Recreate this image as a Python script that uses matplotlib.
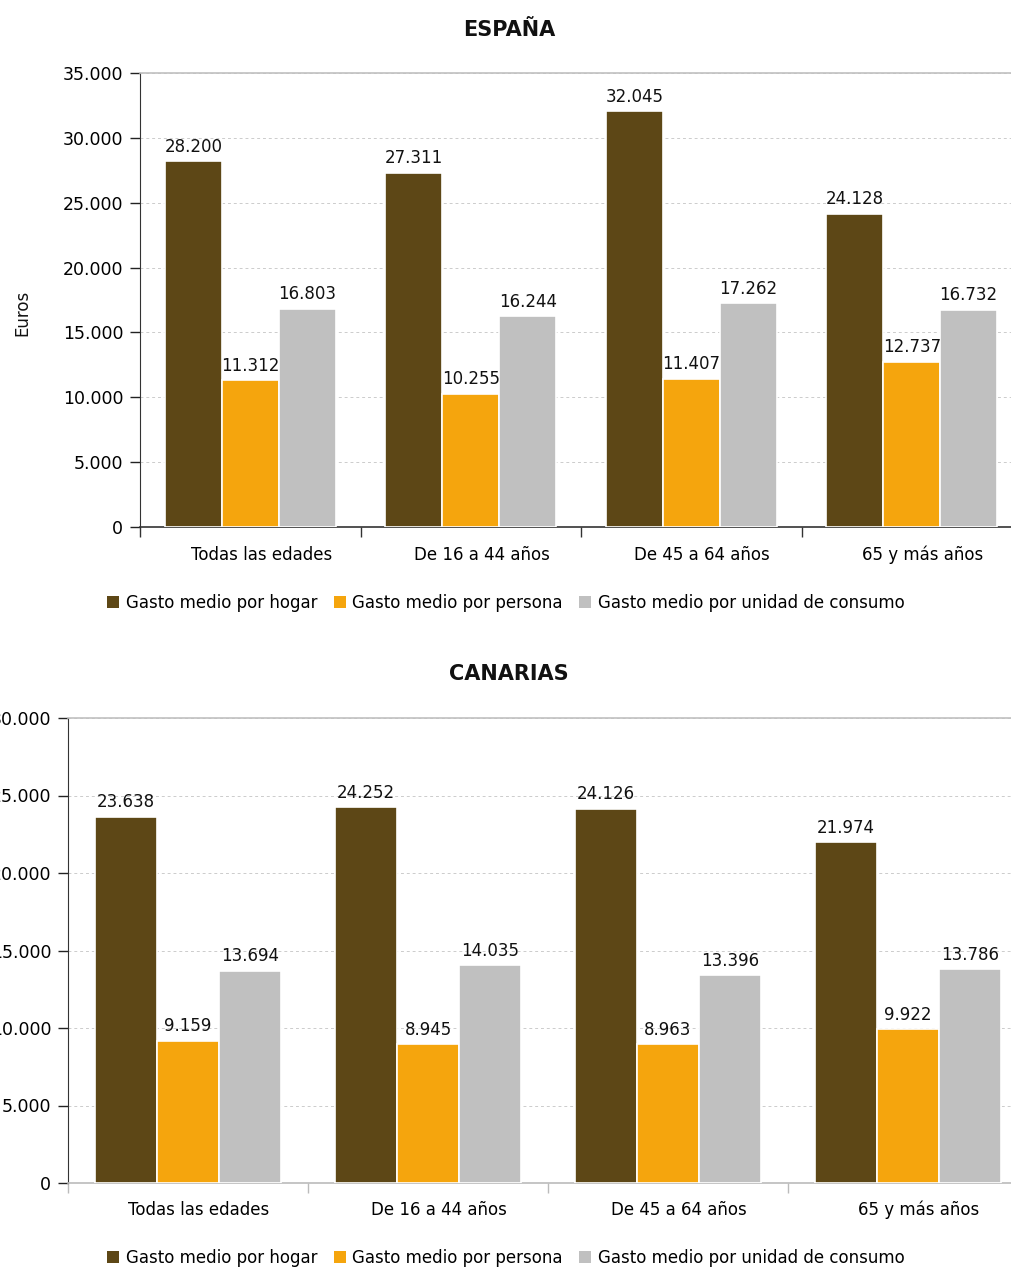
import matplotlib
matplotlib.use("Agg")
import matplotlib.pyplot as plt
import matplotlib.transforms as mtransforms
from matplotlib.patches import Patch
from matplotlib.ticker import FuncFormatter, MultipleLocator

categorias = ["Todas las edades", "De 16 a 44 años", "De 45 a 64 años", "65 y más años"]
series = ["Gasto medio por hogar", "Gasto medio por persona", "Gasto medio por unidad de consumo"]
colores = ["#5D4716", "#F5A50D", "#C0C0C0"]

espana_hogar = [28200, 27311, 32045, 24128]
espana_persona = [11312, 10255, 11407, 12737]
espana_unidad = [16803, 16244, 17262, 16732]

canarias_hogar = [23638, 24252, 24126, 21974]
canarias_persona = [9159, 8945, 8963, 9922]
canarias_unidad = [13694, 14035, 13396, 13786]

W, H = 1011, 1268
DPI = 100


def miles(v, pos=None):
    return f"{int(round(v)):,}".replace(",", ".")


def dibujar(ax, valores, ymax, xaxis_color, pad_lab):
    ancho = 0.258
    x = list(range(len(categorias)))
    for k, (vals, col) in enumerate(zip(valores, colores)):
        pos = [i + (k - 1) * ancho for i in x]
        bars = ax.bar(pos, vals, width=ancho, color=col, edgecolor="white",
                      linewidth=1.2, zorder=3)
        for b, v in zip(bars, vals):
            ax.annotate(miles(v), (b.get_x() + b.get_width() / 2, v),
                        xytext=(0, 4), textcoords="offset points",
                        ha="center", va="bottom", fontsize=12, color="#111111",
                        zorder=4)
    ax.set_xlim(-0.5, 3.5)
    ax.set_ylim(0, ymax)
    ax.yaxis.set_major_locator(MultipleLocator(5000))
    ax.yaxis.set_major_formatter(FuncFormatter(miles))
    ax.grid(axis="y", color="#cccccc", linestyle=(0, (3, 3)), linewidth=0.7, zorder=0)
    ax.set_axisbelow(True)

    ax.set_xticks(x)
    ax.set_xticklabels(categorias, fontsize=12)
    ax.set_xticks([-0.5, 0.5, 1.5, 2.5, 3.5], minor=True)
    ax.tick_params(axis="x", which="major", length=0, pad=pad_lab)
    ax.tick_params(axis="x", which="minor", length=7, color=xaxis_color, width=1)
    desplaza = mtransforms.ScaledTranslation(11 / DPI, 0, ax.figure.dpi_scale_trans)
    for lab in ax.get_xticklabels():
        lab.set_verticalalignment("baseline")
        lab.set_transform(lab.get_transform() + desplaza)
    ax.tick_params(axis="y", length=7, width=1, color="#222222", pad=5, labelsize=12.5)

    ax.spines["right"].set_visible(False)
    ax.spines["top"].set_color("#c0c0c0")
    ax.spines["top"].set_linewidth(1.2)
    ax.spines["left"].set_color("#333333")
    ax.spines["bottom"].set_color(xaxis_color)
    ax.spines["bottom"].set_linewidth(1.2)


fig = plt.figure(figsize=(W / DPI, H / DPI), dpi=DPI)

ax1 = fig.add_axes([140 / W, (H - 527) / H, 882 / W, 454 / H])
dibujar(ax1, [espana_hogar, espana_persona, espana_unidad], 35000, "#333333", 23.5)

ax2 = fig.add_axes([68 / W, (H - 1183) / H, 960 / W, 465 / H])
dibujar(ax2, [canarias_hogar, canarias_persona, canarias_unidad], 30000, "#bbbbbb", 23)

fig.text(509 / W, 1 - 30 / H, "ESPAÑA", ha="center", va="center",
         fontsize=15, fontweight="bold", color="#111111")
fig.text(509 / W, 1 - 674 / H, "CANARIAS", ha="center", va="center",
         fontsize=15, fontweight="bold", color="#111111")
fig.text(22 / W, 1 - 313 / H, "Euros", rotation=90, ha="center", va="center",
         fontsize=12, color="#111111")

handles = [Patch(facecolor=c, edgecolor="none") for c in colores]
for xcen, ycen in ((506, 603), (506, 1258)):
    fig.legend(handles, series, loc="center", bbox_to_anchor=(xcen / W, 1 - ycen / H),
               ncol=3, frameon=False, fontsize=12, handlelength=0.7,
               handleheight=0.7, handletextpad=0.4, columnspacing=1.0,
               borderaxespad=0, borderpad=0)

fig.savefig("out.png", dpi=DPI)
